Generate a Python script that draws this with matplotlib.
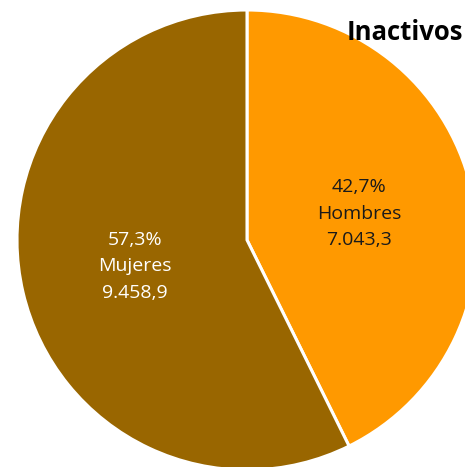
import numpy as np
import matplotlib
matplotlib.use('Agg')
import matplotlib.pyplot as plt

plt.rcParams['font.family'] = ['Open Sans', 'DejaVu Sans']

categorias = ['Hombres', 'Mujeres']
valores = [7043.3, 9458.9]
porcentajes = ['42,7%', '57,3%']
etiquetas_valor = ['7.043,3', '9.458,9']
colores = ['#FF9900', '#996600']
colores_texto = ['#1a1a1a', 'white']

fig = plt.figure(figsize=(4.65, 4.67), dpi=100)
# radius 230 px, center at (247, 240) px from top-left
ax = fig.add_axes([(247 - 230) / 465, (467 - 240 - 230) / 467, 460 / 465, 460 / 467])
wedges, _ = ax.pie(valores, colors=colores, startangle=90, counterclock=False,
                   radius=1, wedgeprops=dict(edgecolor='white', linewidth=2.2))
ax.set_xlim(-1, 1)
ax.set_ylim(-1, 1)
ax.axis('off')

for w, cat, pct, val, tc in zip(wedges, categorias, porcentajes, etiquetas_valor, colores_texto):
    ang = np.deg2rad((w.theta1 + w.theta2) / 2)
    ax.text(0.5 * np.cos(ang), 0.5 * np.sin(ang), pct + '\n' + cat + '\n' + val,
            ha='center', va='center', fontsize=14, color=tc, linespacing=1.62)

fig.text(405 / 465, 1 - 33 / 467, 'Inactivos', ha='center', va='center',
         fontsize=18.5, fontweight='bold', color='black')

fig.savefig('out.png', dpi=100)
